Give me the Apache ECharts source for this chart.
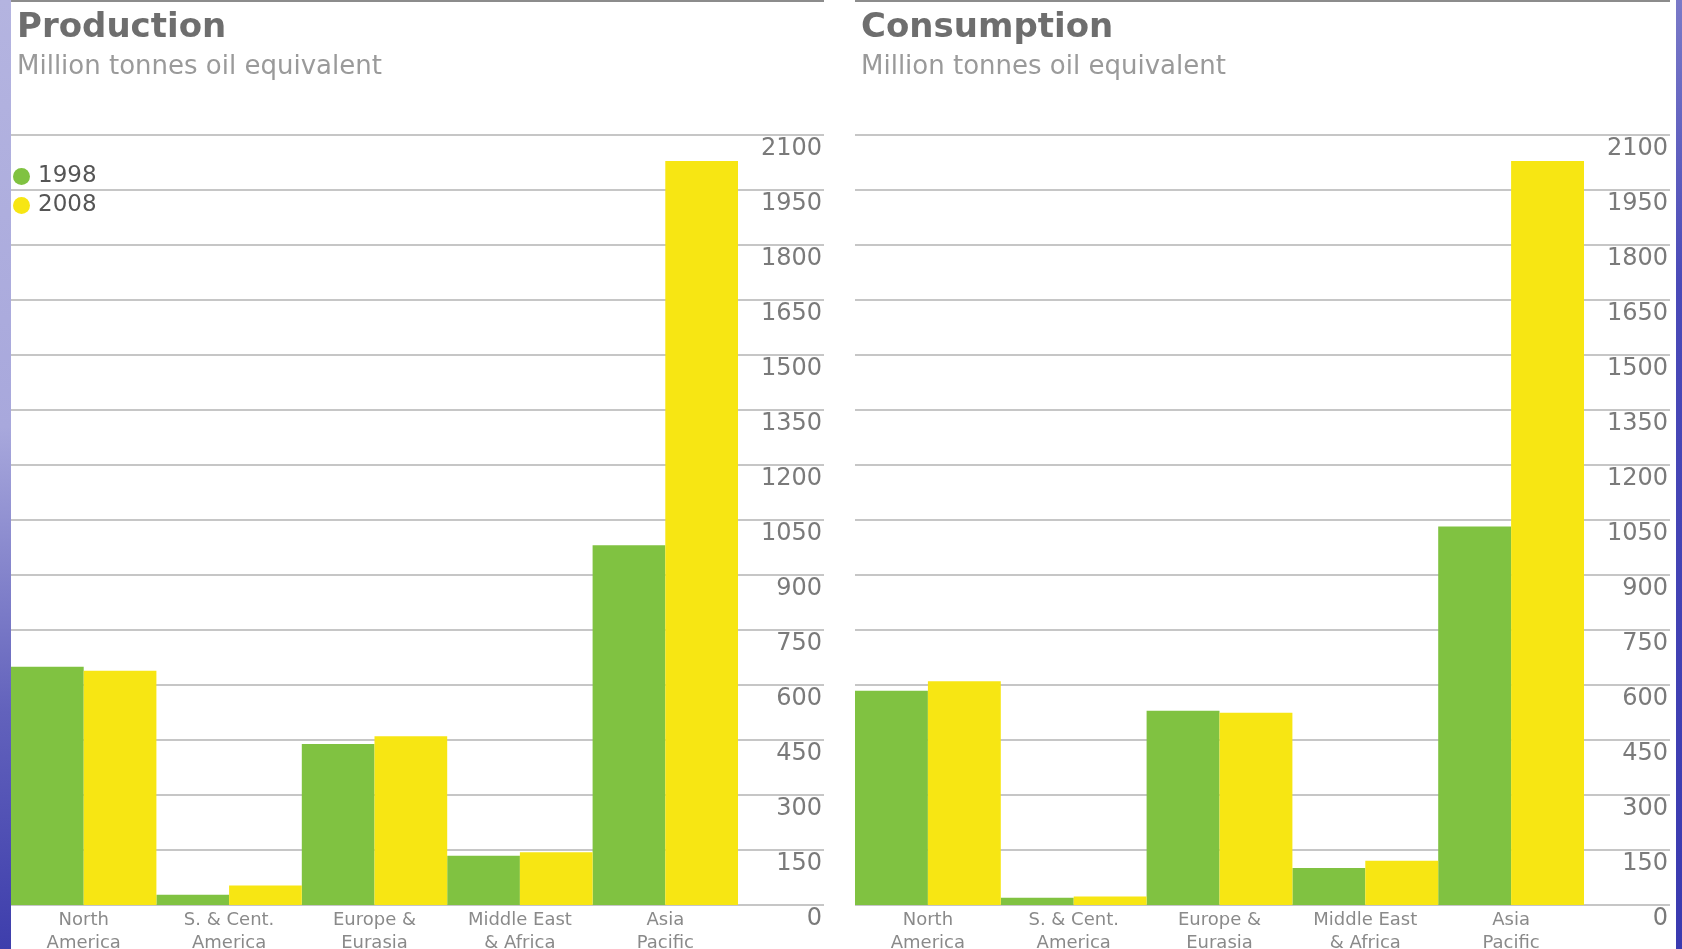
<!DOCTYPE html>
<html>
<head>
<meta charset="utf-8">
<title>Production and Consumption</title>
<script src="https://cdn.jsdelivr.net/npm/echarts@6/dist/echarts.min.js"></script>
<style>
  html, body { margin: 0; padding: 0; background: #ffffff; }
  #chart { width: 1682px; height: 949px; }
</style>
</head>
<body>
<div id="chart"></div>
<script>
// Regions on the category axis (two-line labels)
const regions = ['North\nAmerica', 'S. & Cent.\nAmerica', 'Europe &\nEurasia', 'Middle East\n& Africa', 'Asia\nPacific'];
const years = ['1998', '2008'];

// Million tonnes oil equivalent
const production1998 = [650, 28, 439, 134, 981];
const production2008 = [639, 53, 460, 144, 2029];
const consumption1998 = [584, 20, 530, 101, 1032];
const consumption2008 = [610, 23, 524, 121, 2029];

// Value axis settings
const axisMin = 0;
const axisMax = 2100;
const axisStep = 150;

const GREEN = '#80c241';
const YELLOW = '#f7e613';
const FONT = 'DejaVu Sans';

const chart = echarts.init(document.getElementById('chart'), null, { renderer: 'canvas' });

// Panel geometry: an axis grid (gridlines + labels) and a narrower bar grid
const panels = [
  { left: 11, axisWidth: 813, barWidth: 727, title: 'Production', a: production1998, b: production2008 },
  { left: 855, axisWidth: 815, barWidth: 729, title: 'Consumption', a: consumption1998, b: consumption2008 }
];
const TOP = 135, HEIGHT = 770;

const grids = [], xAxes = [], yAxes = [], series = [], titles = [], graphics = [];

panels.forEach((p, i) => {
  const axisGrid = grids.length;
  grids.push({ left: p.left, top: TOP, width: p.axisWidth, height: HEIGHT, outerBoundsMode: 'none', containLabel: false });
  const barGrid = grids.length;
  grids.push({ left: p.left, top: TOP, width: p.barWidth, height: HEIGHT, outerBoundsMode: 'none', containLabel: false });

  xAxes.push({ gridIndex: axisGrid, type: 'value', min: 0, max: 1, show: false });
  yAxes.push({
    gridIndex: axisGrid, type: 'value', min: axisMin, max: axisMax, interval: axisStep,
    position: 'right',
    axisLine: { show: false }, axisTick: { show: false },
    splitLine: { show: true, lineStyle: { color: '#c6c6c6', width: 2 } },
    axisLabel: {
      inside: true, margin: 2, align: 'right', verticalAlign: 'top', lineHeight: 28,
      formatter: (v) => String(v),
      fontFamily: FONT, fontSize: 24, color: '#7a7a7a'
    }
  });

  xAxes.push({
    gridIndex: barGrid, type: 'category', data: regions,
    axisLine: { show: false }, axisTick: { show: false },
    axisLabel: {
      interval: 0, margin: 4, fontFamily: FONT, fontSize: 18, lineHeight: 23, color: '#8a8a8a'
    }
  });
  yAxes.push({ gridIndex: barGrid, type: 'value', min: axisMin, max: axisMax, interval: axisStep, show: false });

  const xi = xAxes.length - 1, yi = yAxes.length - 1;
  series.push({
    name: years[0], type: 'bar', xAxisIndex: xi, yAxisIndex: yi, data: p.a,
    barGap: '0%', barCategoryGap: '0%', itemStyle: { color: GREEN }, z: 3
  });
  series.push({
    name: years[1], type: 'bar', xAxisIndex: xi, yAxisIndex: yi, data: p.b,
    barGap: '0%', barCategoryGap: '0%', itemStyle: { color: YELLOW }, z: 3
  });

  titles.push({
    text: p.title, subtext: 'Million tonnes oil equivalent',
    left: p.left + 1, top: 6, itemGap: 9,
    textStyle: { fontFamily: FONT, fontSize: 34, fontWeight: 'bold', color: '#6e6e6e' },
    subtextStyle: { fontFamily: FONT, fontSize: 26, color: '#9a9a9a' }
  });

  // Rule across the top of each panel
  graphics.push({
    type: 'rect', left: p.left, top: 0,
    shape: { width: p.axisWidth, height: 2 },
    style: { fill: '#8c8c8c' }, silent: true
  });
});

// Slide background visible at the left and right edges
graphics.push({
  type: 'rect', left: 0, top: 0, shape: { width: 11, height: 949 }, silent: true, z: 10,
  style: {
    fill: new echarts.graphic.LinearGradient(0, 0, 0, 1, [
      { offset: 0, color: '#b4b4e0' },
      { offset: 0.45, color: '#a8a8dc' },
      { offset: 0.75, color: '#6262bc' },
      { offset: 1, color: '#3e3eac' }
    ])
  }
});
graphics.push({
  type: 'rect', right: 0, top: 0, shape: { width: 6, height: 949 }, silent: true, z: 10,
  style: {
    fill: new echarts.graphic.LinearGradient(0, 0, 0, 1, [
      { offset: 0, color: '#7a7ac8' },
      { offset: 0.3, color: '#4a4ab8' },
      { offset: 1, color: '#3a3ab0' }
    ])
  }
});

chart.setOption({
  animation: false,
  backgroundColor: '#ffffff',
  title: titles,
  legend: {
    data: years, orient: 'vertical', left: 8, top: 160,
    icon: 'circle', itemWidth: 17, itemHeight: 17, itemGap: 6,
    textStyle: { fontFamily: FONT, fontSize: 23, color: '#555555', padding: [0, 0, 0, 3] },
    selectedMode: false
  },
  grid: grids,
  xAxis: xAxes,
  yAxis: yAxes,
  series: series,
  graphic: graphics
});
</script>
</body>
</html>
